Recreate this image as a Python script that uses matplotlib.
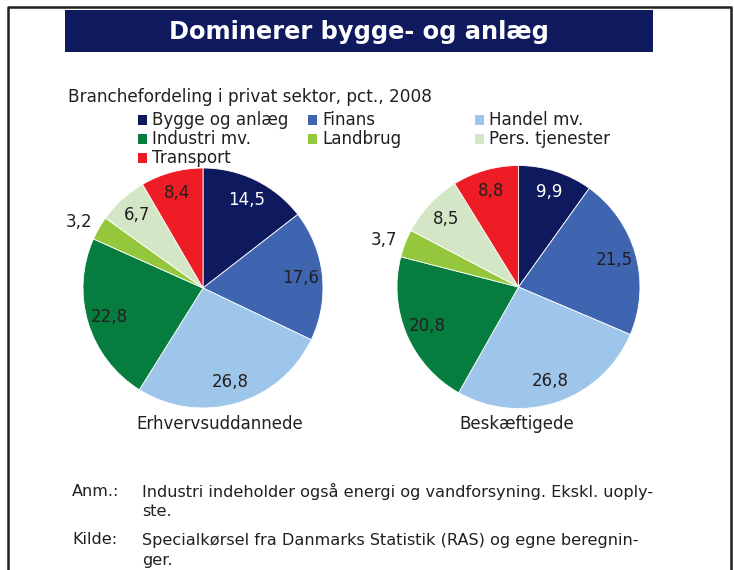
import matplotlib.pyplot as plt
from matplotlib.patches import Rectangle
from matplotlib.lines import Line2D

W, H = 734, 570

# data
sectors = ['Bygge og anlæg', 'Finans', 'Handel mv.', 'Industri mv.', 'Landbrug',
           'Pers. tjenester', 'Transport']
colors = ['#0f1a5e', '#3f64b0', '#9dc6ea', '#067d3e', '#95c73d', '#d3e7c7', '#ee1c25']
erhvervsuddannede = [14.5, 17.6, 26.8, 22.8, 3.2, 6.7, 8.4]
beskaeftigede = [9.9, 21.5, 26.8, 20.8, 3.7, 8.5, 8.8]
pie_names = ['Erhvervsuddannede', 'Beskæftigede']

title = 'Dominerer bygge- og anlæg'
subtitle = 'Branchefordeling i privat sektor, pct., 2008'
notes = [('Anm.:', ['Industri indeholder også energi og vandforsyning. Ekskl. uoply-', 'ste.']),
         ('Kilde:', ['Specialkørsel fra Danmarks Statistik (RAS) og egne beregnin-', 'ger.'])]

plt.rcParams['font.family'] = ['DejaVu Sans']
TXT = '#231f20'


def fx(x):
    return x / W


def fy(y):
    return 1 - y / H


fig = plt.figure(figsize=(W / 100, H / 100), dpi=100)

# frame
fig.add_artist(Line2D([fx(7.5), fx(7.5), fx(731), fx(731)], [0, fy(6.5), fy(6.5), 0],
                      color='#231f20', lw=1.8, transform=fig.transFigure))

# title bar
fig.add_artist(Rectangle((fx(65), fy(52)), fx(653) - fx(65), (52 - 10) / H,
                         facecolor='#0f1a5e', edgecolor='none', transform=fig.transFigure))
fig.text(fx(359), fy(32), title, color='white', fontsize=17.4, fontweight='bold',
         ha='center', va='center')

fig.text(fx(68), fy(97), subtitle, color=TXT, fontsize=12.2, ha='left', va='center')

# legend, row by row
col_x = [138, 308, 475]
row_y = [120, 139, 158]
for i, (name, c) in enumerate(zip(sectors, colors)):
    x, y = col_x[i % 3], row_y[i // 3]
    fig.add_artist(Rectangle((fx(x), fy(y + 4.5)), 9 / W, 9 / H, facecolor=c,
                             edgecolor='none', transform=fig.transFigure))
    fig.text(fx(x + 14), fy(y), name, color=TXT, fontsize=12.1, ha='left', va='center')

# pies
centers = [(203, 288), (518.5, 287)]
radii = [120, 121.5]
name_x = [220, 517]
for vals, name, (cx, cy), r, nx in zip([erhvervsuddannede, beskaeftigede], pie_names,
                                       centers, radii, name_x):
    ax = fig.add_axes([fx(cx - r), fy(cy + r), 2 * r / W, 2 * r / H])
    wedges, texts = ax.pie(vals, colors=colors, startangle=90, counterclock=False,
                           radius=1, labels=[f'{v:.1f}'.replace('.', ',') for v in vals],
                           labeldistance=0.82,
                           wedgeprops=dict(edgecolor='white', linewidth=0.6),
                           textprops=dict(fontsize=12, color=TXT))
    for k, t in enumerate(texts):
        t.set_ha('center')
        t.set_va('center')
        if k == 0:
            t.set_color('white')
        if vals[k] < 5:
            px, py = t.get_position()
            t.set_position((px * 1.45, py * 1.45 - 0.04))
    ax.set_xlim(-1, 1)
    ax.set_ylim(-1, 1)
    ax.axis('off')
    fig.text(fx(nx), fy(424), name, color=TXT, fontsize=12, ha='center', va='center')

# footnotes
ys = [491, 540]
for (head, lines), y in zip(notes, ys):
    fig.text(fx(72), fy(y), head, color=TXT, fontsize=11.6, ha='left', va='center')
    for j, line in enumerate(lines):
        fig.text(fx(142), fy(y + j * 20), line, color=TXT, fontsize=11.6,
                 ha='left', va='center')

fig.savefig('out.png', dpi=100)
